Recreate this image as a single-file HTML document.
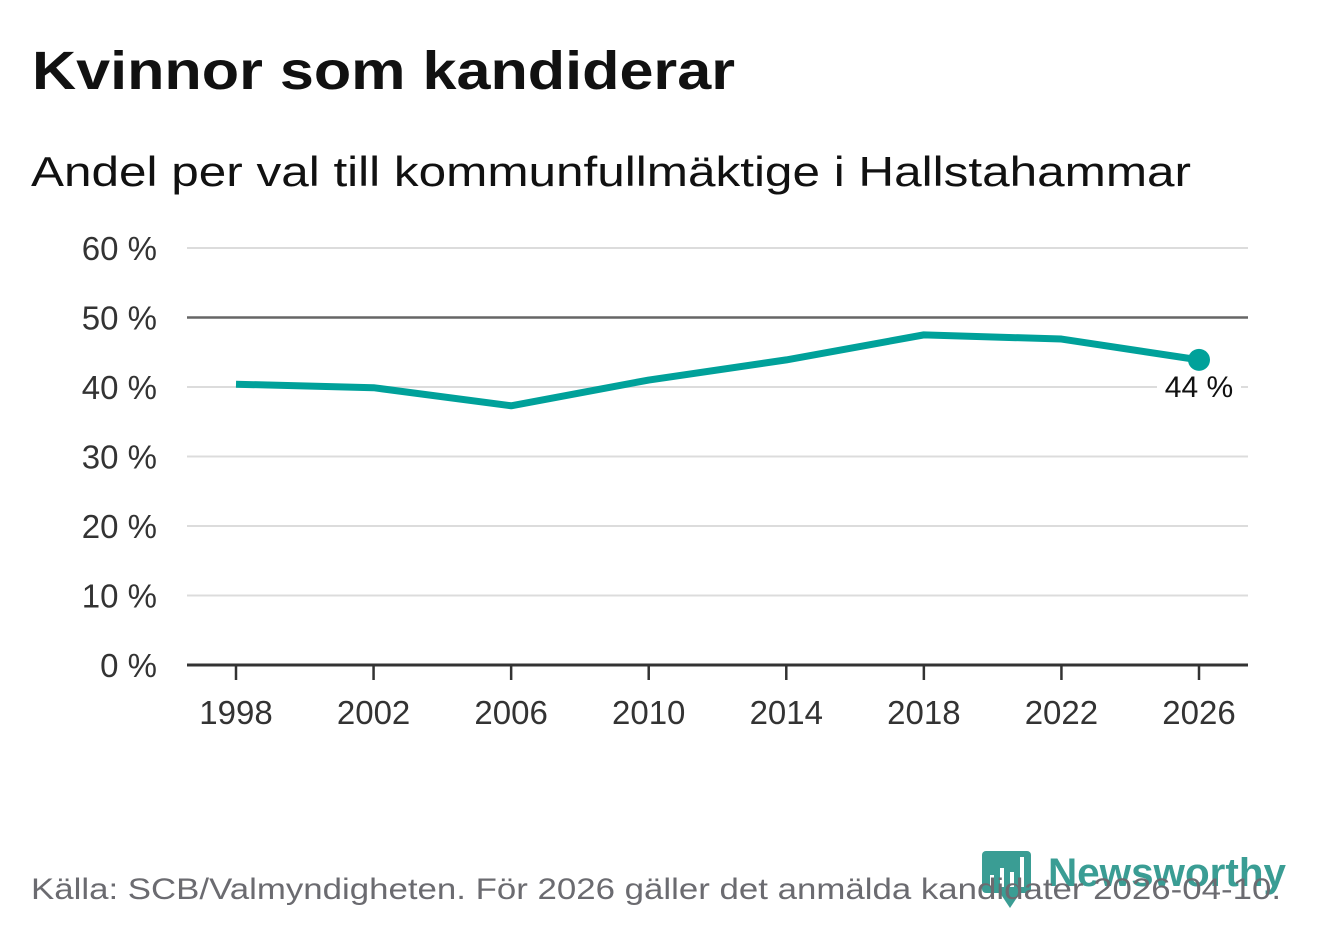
<!DOCTYPE html>
<html><head><meta charset="utf-8"><style>
html,body{margin:0;padding:0;background:#fff;}
svg{display:block;font-family:"Liberation Sans","DejaVu Sans",sans-serif;}
</style></head><body>
<svg id="chart" width="1322" height="939" viewBox="0 0 1322 939">
<text x="32" y="89" font-size="54" font-weight="bold" fill="#111" textLength="703" lengthAdjust="spacingAndGlyphs">Kvinnor som kandiderar</text>
<text x="31" y="186" font-size="42" fill="#111" textLength="1160" lengthAdjust="spacingAndGlyphs">Andel per val till kommunfullmäktige i Hallstahammar</text>
<g id="grid"></g><g id="xaxis"></g><g id="plot"></g>
<g>
<rect x="982" y="851" width="49" height="42" rx="4" fill="#3a9d94"/>
<polygon points="1000,893 1020,893 1010,908" fill="#3a9d94"/>
<rect x="990" y="875" width="4" height="12" fill="#fff"/><rect x="1000" y="868" width="4" height="19" fill="#fff"/><rect x="1010" y="872" width="4" height="15" fill="#fff"/><rect x="1020" y="857" width="4" height="30" fill="#fff"/>
<text x="1048" y="886" font-size="40" font-weight="bold" fill="#3a9d94" textLength="238" lengthAdjust="spacingAndGlyphs">Newsworthy</text>
</g>
<text x="31" y="899" font-size="30" fill="#6b6b70" textLength="1250" lengthAdjust="spacingAndGlyphs">Källa: SCB/Valmyndigheten. För 2026 gäller det anmälda kandidater 2026-04-10.</text>
</svg>
<script>
const years=[1998,2002,2006,2010,2014,2018,2022,2026];
const values=[40.4,39.9,37.3,41.0,43.9,47.5,46.9,43.9];
const yTicks=[0,10,20,30,40,50,60];
const xTicks=[1998,2002,2006,2010,2014,2018,2022,2026];
const NS="http://www.w3.org/2000/svg";
const x=v=>236+(v-1998)*(1199-236)/28;
const y=v=>665-v*(665-248)/60;
function mk(t,a,p){const e=document.createElementNS(NS,t);for(const k in a)e.setAttribute(k,a[k]);p.appendChild(e);return e;}
const grid=document.getElementById('grid'),xa=document.getElementById('xaxis'),plot=document.getElementById('plot');
yTicks.forEach(t=>{
 const ln=mk('line',{x1:187,x2:1248,y1:y(t),y2:y(t),stroke:t===50?'#666':(t===0?'#333':'#dcdcdc'),'stroke-width':t===0?3:(t===50?2.5:2)},grid);
 
 
 const tx=mk('text',{x:157,y:y(t)+12,'font-size':33,fill:'#333','text-anchor':'end'},grid);
 tx.textContent=t+' %';
 
 
});
xTicks.forEach(t=>{
 const tk=mk('line',{x1:x(t),x2:x(t),y1:665,y2:680,stroke:'#333','stroke-width':2.5},xa);
 
 
 const tx=mk('text',{x:x(t),y:724,'font-size':33,fill:'#333','text-anchor':'middle'},xa);
 tx.textContent=t;
 
 
});
const pl=mk('polyline',{points:years.map((v,i)=>x(v)+','+y(values[i])).join(' '),fill:'none',stroke:'#00a19a','stroke-width':7,'stroke-linejoin':'round'},plot);


const n=years.length-1;
const dot=mk('circle',{cx:x(years[n]),cy:y(values[n]),r:11,fill:'#00a19a'},plot);


const bg=mk('rect',{x:x(years[n])-42,y:y(values[n])+12,width:84,height:32,fill:'#fff'},plot);


const lb=mk('text',{x:x(years[n]),y:y(values[n])+37,'font-size':30,fill:'#111','text-anchor':'middle'},plot);
lb.textContent=Math.round(values[n])+' %';


</script>
</body></html>
